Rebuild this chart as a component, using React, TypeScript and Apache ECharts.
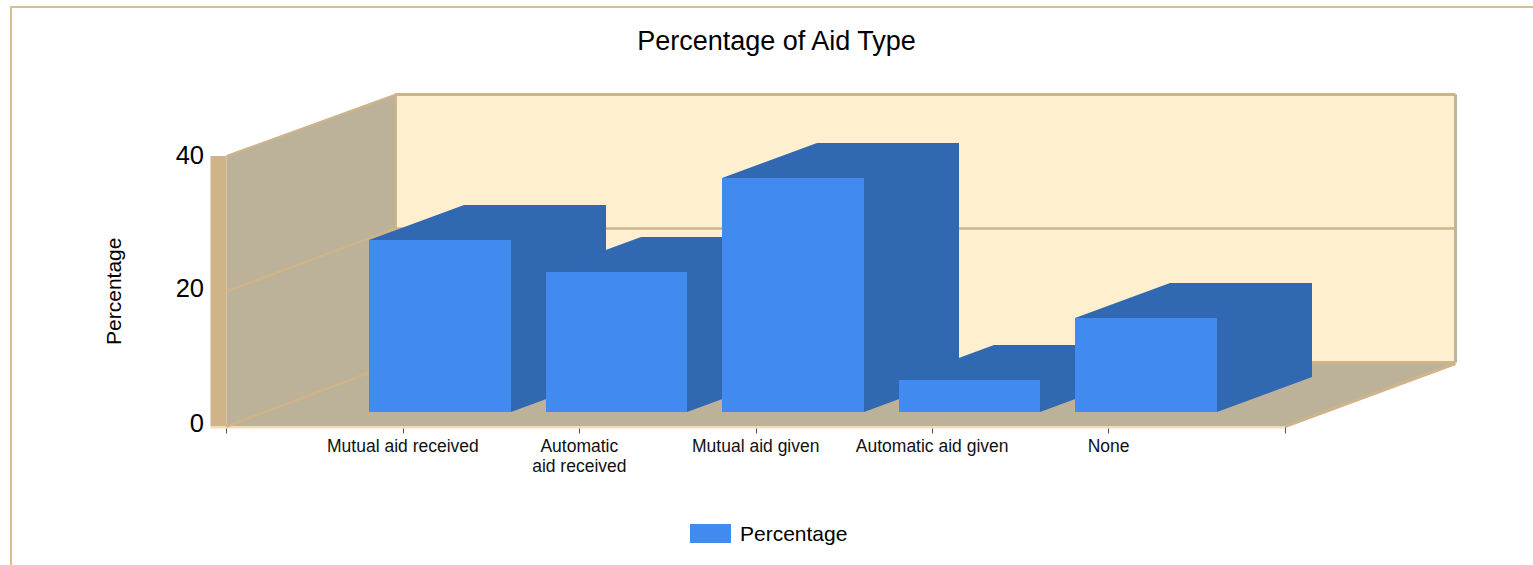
import React, { useEffect, useRef } from "react";
import * as echarts from "echarts";

const categories = ["Mutual aid received", "Automatic\naid received", "Mutual aid given", "Automatic aid given", "None"];
const percentages = [25.3, 20.6, 34.5, 4.7, 13.9];
const yTicks = [0, 20, 40];
const seriesName = "Percentage";
const titleText = "Percentage of Aid Type";

const FONT = "'Liberation Sans', Arial, sans-serif";
const TAN = "#CFB48A";
const WALL = "#BCB29A";
const BACK = "#FEEFCF";
const BLUE = "#418BF0";
const BLUE_DARK = "#3068B2";

const WALL_DX = 169.5;
const WALL_DY = -64;
const WALL_TOP_GAIN = 2.5;
const BAR_DX = 95;
const BAR_DY = -35;
const BAR_OFF_X = 37.3;
const BAR_OFF_Y = -15;
const BAR_FRACTION = 0.802;

const poly = (points: number[][], fill: string) => ({
  type: "polygon",
  shape: { points },
  style: { fill },
});
const seg = (a: number[], b: number[], stroke: string, lineWidth: number) => ({
  type: "line",
  z2: 1,
  shape: { x1: a[0], y1: a[1], x2: b[0], y2: b[1] },
  style: { stroke, lineWidth },
});

const renderWalls = (_p: any, api: any) => {
  const last = categories.length + 1;
  const top = yTicks[yTicks.length - 1];
  const a = api.coord([0, 0]);
  const b = api.coord([0, top]);
  const c = api.coord([last, 0]);
  // back-plane projection of a front-plane point at value t
  const s = (p: number[], t: number) => [p[0] + WALL_DX, p[1] + WALL_DY + (t / top) * WALL_TOP_GAIN];
  const rx = c[0] + WALL_DX + 1;
  const backTop = s(b, top);
  const backBot = s(a, 0);
  const backTopR = [rx, backTop[1]];
  const backBotR = [rx, backBot[1]];
  const children: any[] = [
    poly([[a[0] - 16, b[1]], b, a, [a[0] - 16, a[1]]], TAN),
    poly([b, backTop, backBot, a], WALL),
    poly([backTop, backTopR, backBotR, backBot], BACK),
    poly([a, backBot, backBotR, c], WALL),
    seg(b, backTop, TAN, 2),
    seg(backTop, backBot, TAN, 2),
    seg([backTop[0] - 1, backTop[1]], backTopR, TAN, 3),
    seg(backTopR, backBotR, "#BFB49C", 3),
    seg(backBot, backBotR, TAN, 3),
    seg(c, [backBotR[0], backBotR[1] + 1], TAN, 3),
    seg([a[0] - 16, a[1] + 1], [c[0], c[1] + 1], "#F5DDB5", 2),
  ];
  yTicks.forEach((t) => {
    const p = api.coord([0, t]);
    if (t !== top) {
      const q = s(p, t);
      children.push(seg(p, q, TAN, 2.5));
      if (t !== 0) children.push(seg(q, [rx, q[1]], TAN, 2.5));
    }
  });
  return { type: "group", children };
};

const renderBar = (_p: any, api: any) => {
  const idx = api.value(0);
  const val = api.value(1);
  const base = api.coord([idx, 0]);
  const head = api.coord([idx, val]);
  const next = api.coord([idx + 1, 0]);
  const w = (next[0] - base[0]) * BAR_FRACTION;
  const cx = base[0] + BAR_OFF_X;
  const x0 = Math.round(cx - w / 2);
  const x1 = Math.round(cx + w / 2);
  const yb = Math.round(base[1] + BAR_OFF_Y);
  const yt = Math.round(head[1] + BAR_OFF_Y);
  return {
    type: "group",
    children: [
      poly(
        [
          [x0, yt],
          [x0 + BAR_DX, yt + BAR_DY],
          [x1 + BAR_DX, yt + BAR_DY],
          [x1 + BAR_DX, yb + BAR_DY],
          [x1, yb],
          [x1, yt],
        ],
        BLUE_DARK
      ),
      poly([[x0, yt], [x1, yt], [x1, yb], [x0, yb]], BLUE),
    ],
  };
};

export default function App() {
  const ref = useRef<HTMLDivElement>(null);
  useEffect(() => {
    const chart = echarts.init(ref.current!, undefined, { renderer: "svg" });
    chart.setOption({
      animation: false,
      backgroundColor: "#fff",
      title: {
        text: titleText,
        left: 771.5,
        top: 22,
        textAlign: "center",
        textStyle: { fontFamily: FONT, fontSize: 27, fontWeight: "normal", color: "#000" },
      },
      legend: {
        data: [seriesName],
        left: 685,
        top: 518,
        icon: "rect",
        itemWidth: 41,
        itemHeight: 19,
        textStyle: { fontFamily: FONT, fontSize: 21, color: "#000", padding: [0, 0, 0, 4] },
      },
      graphic: [
        {
          type: "polyline",
          silent: true,
          shape: { points: [[11, 565], [11, 7], [1533, 7]] },
          style: { stroke: "#D9BC94", lineWidth: 2, fill: "none" },
        },
      ],
      grid: { left: 226.5, top: 156, width: 1058.5, height: 270.5 },
      xAxis: {
        type: "category",
        boundaryGap: false,
        data: ["", ...categories, ""],
        axisLine: { show: false },
        axisTick: { show: true, length: 7, interval: 0, lineStyle: { color: "#555", width: 1 } },
        axisLabel: {
          interval: 0,
          margin: 9,
          fontFamily: FONT,
          fontSize: 17.5,
          lineHeight: 20,
          color: "#111",
        },
      },
      yAxis: {
        type: "value",
        min: 0,
        max: 40,
        interval: 20,
        name: seriesName,
        nameLocation: "middle",
        nameGap: 103,
        nameTextStyle: { fontFamily: FONT, fontSize: 21, color: "#000" },
        axisLine: { show: false },
        axisTick: { show: false },
        splitLine: { show: false },
        axisLabel: {
          margin: 22.5,
          fontFamily: FONT,
          fontSize: 25.5,
          color: "#000",
          formatter: (v: number) => `{t${v}|${v}}`,
          rich: {
            t0: { padding: [0, 0, 8, 0] },
            t20: { padding: [0, 0, 6, 0] },
            t40: { padding: [0, 0, 2, 0] },
          },
        },
      },
      series: [
        {
          type: "custom",
          name: "walls",
          z: 1,
          silent: true,
          renderItem: renderWalls,
          data: [[0, 0]],
        },
        {
          type: "custom",
          name: seriesName,
          z: 2,
          itemStyle: { color: BLUE },
          renderItem: renderBar,
          encode: { x: 0, y: 1 },
          data: percentages.map((v, i) => [i + 1, v]),
        },
      ],
    });
    return () => chart.dispose();
  }, []);
  return <div ref={ref} style={{ position: "fixed", left: 0, top: 0, width: 1533, height: 565 }} />;
}
